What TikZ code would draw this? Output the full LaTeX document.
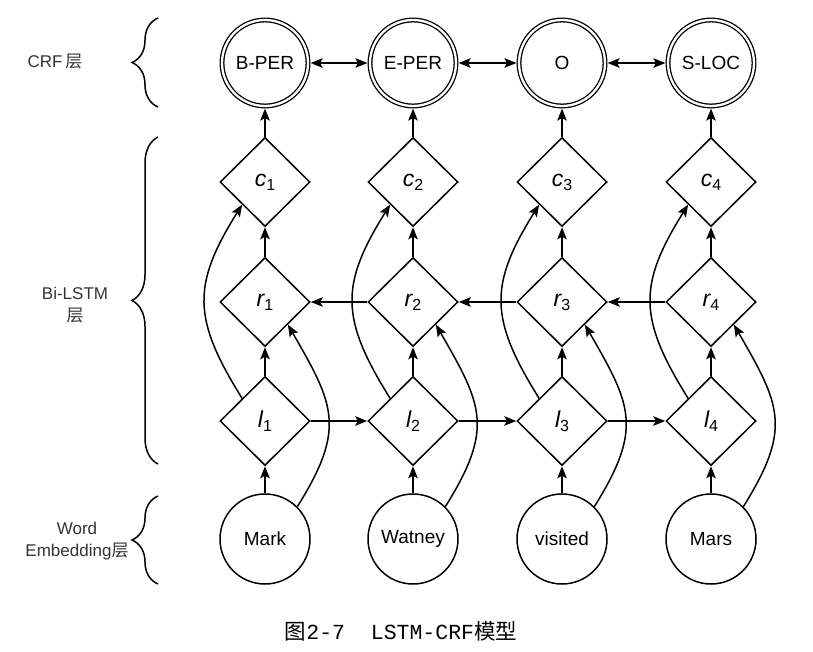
\documentclass[tikz,border=0pt]{standalone}
\usepackage{fontspec}
\setmainfont{Liberation Sans}
\newfontfamily\cjk{Noto Sans CJK SC}
\newfontfamily\capmono{Liberation Mono}
\usetikzlibrary{arrows.meta,shapes.geometric,decorations.pathreplacing}
\newcommand{\vlabel}[2]{{\fontsize{23}{23}\selectfont\itshape #1}\raisebox{-4pt}{\fontsize{16}{16}\selectfont #2}}
\tikzset{
  >={Stealth[length=12pt,width=9.5pt,inset=2.5pt]},
  word/.style={circle,draw,line width=1.5pt,minimum size=90pt,inner sep=0pt,font=\fontsize{19}{22}\selectfont},
  crf/.style={circle,draw,line width=1.3pt,double,double distance=2.3pt,minimum size=86pt,inner sep=0pt,outer sep=2.6pt,font=\fontsize{19}{22}\selectfont},
  cell/.style={diamond,draw,line width=1.5pt,minimum width=90pt,minimum height=89pt,inner sep=0pt},
  link/.style={->,line width=1.5pt},
  layer/.style={decorate,decoration={brace,amplitude=26pt},line width=1.5pt},
  sidelbl/.style={font=\fontsize{17}{22}\selectfont,align=center,text=black!80}
}

\begin{document}
\begin{tikzpicture}[x=1pt,y=1pt]
  \useasboundingbox (0,0) rectangle (813,-652);
  % CRF layer
  \node[crf] (t1) at (265,-63) {B-PER};
  \node[crf] (t2) at (413,-63) {E-PER};
  \node[crf] (t3) at (562,-63) {O};
  \node[crf] (t4) at (711,-63) {S-LOC};
  % Bi-LSTM layer
  \node[cell] (c1) at (265,-182) {\vlabel{c}{1}};
  \node[cell] (c2) at (413,-182) {\vlabel{c}{2}};
  \node[cell] (c3) at (562,-182) {\vlabel{c}{3}};
  \node[cell] (c4) at (711,-182) {\vlabel{c}{4}};
  \node[cell] (r1) at (265,-302) {\vlabel{r}{1}};
  \node[cell] (r2) at (413,-302) {\vlabel{r}{2}};
  \node[cell] (r3) at (562,-302) {\vlabel{r}{3}};
  \node[cell] (r4) at (711,-302) {\vlabel{r}{4}};
  \node[cell] (l1) at (265,-421) {\vlabel{l}{1}};
  \node[cell] (l2) at (413,-421) {\vlabel{l}{2}};
  \node[cell] (l3) at (562,-421) {\vlabel{l}{3}};
  \node[cell] (l4) at (711,-421) {\vlabel{l}{4}};
  % word embedding layer
  \node[word] (w1) at (265,-539) {Mark};
  \node[word] (w2) at (413,-539) {Watney};
  \node[word] (w3) at (562,-539) {visited};
  \node[word] (w4) at (711,-539) {Mars};
  \foreach \i in {1,...,4}{
    \draw[link] (w\i) -- (l\i);
    \draw[link] (l\i) -- (r\i);
    \draw[link] (r\i) -- (c\i);
    \draw[link] (c\i) -- (t\i);
    \draw[link] (l\i.north west) to[out=122,in=238,looseness=1.25] (c\i.south west);
    \draw[link] (w\i.45) to[out=58,in=300,looseness=1.3] (r\i.south east);
  }
  \foreach \i/\j in {1/2,2/3,3/4}{
    \draw[link] (l\i) -- (l\j);
    \draw[link] (r\j) -- (r\i);
    \draw[link,<->] (t\i) -- (t\j);
  }
  % layer braces
  \draw[layer] (158,-107) -- (158,-18);
  \draw[layer] (158,-464) -- (158,-137);
  \draw[layer] (158,-584) -- (158,-496);
  \node[sidelbl] (crfname) at (55,-62) {CRF\,{\cjk 层}};
  \node[sidelbl] (lstmname) at (75,-305) {Bi-LSTM\\{\cjk 层}};
  \node[sidelbl] (embname) at (77,-541) {Word\\Embedding{\cjk 层}};
  \node[font=\fontsize{21.5}{24}\selectfont] (caption) at (401,-631) {{\cjk 图}{\capmono 2-7~~LSTM-CRF}{\cjk 模型}};
\end{tikzpicture}
\end{document}
